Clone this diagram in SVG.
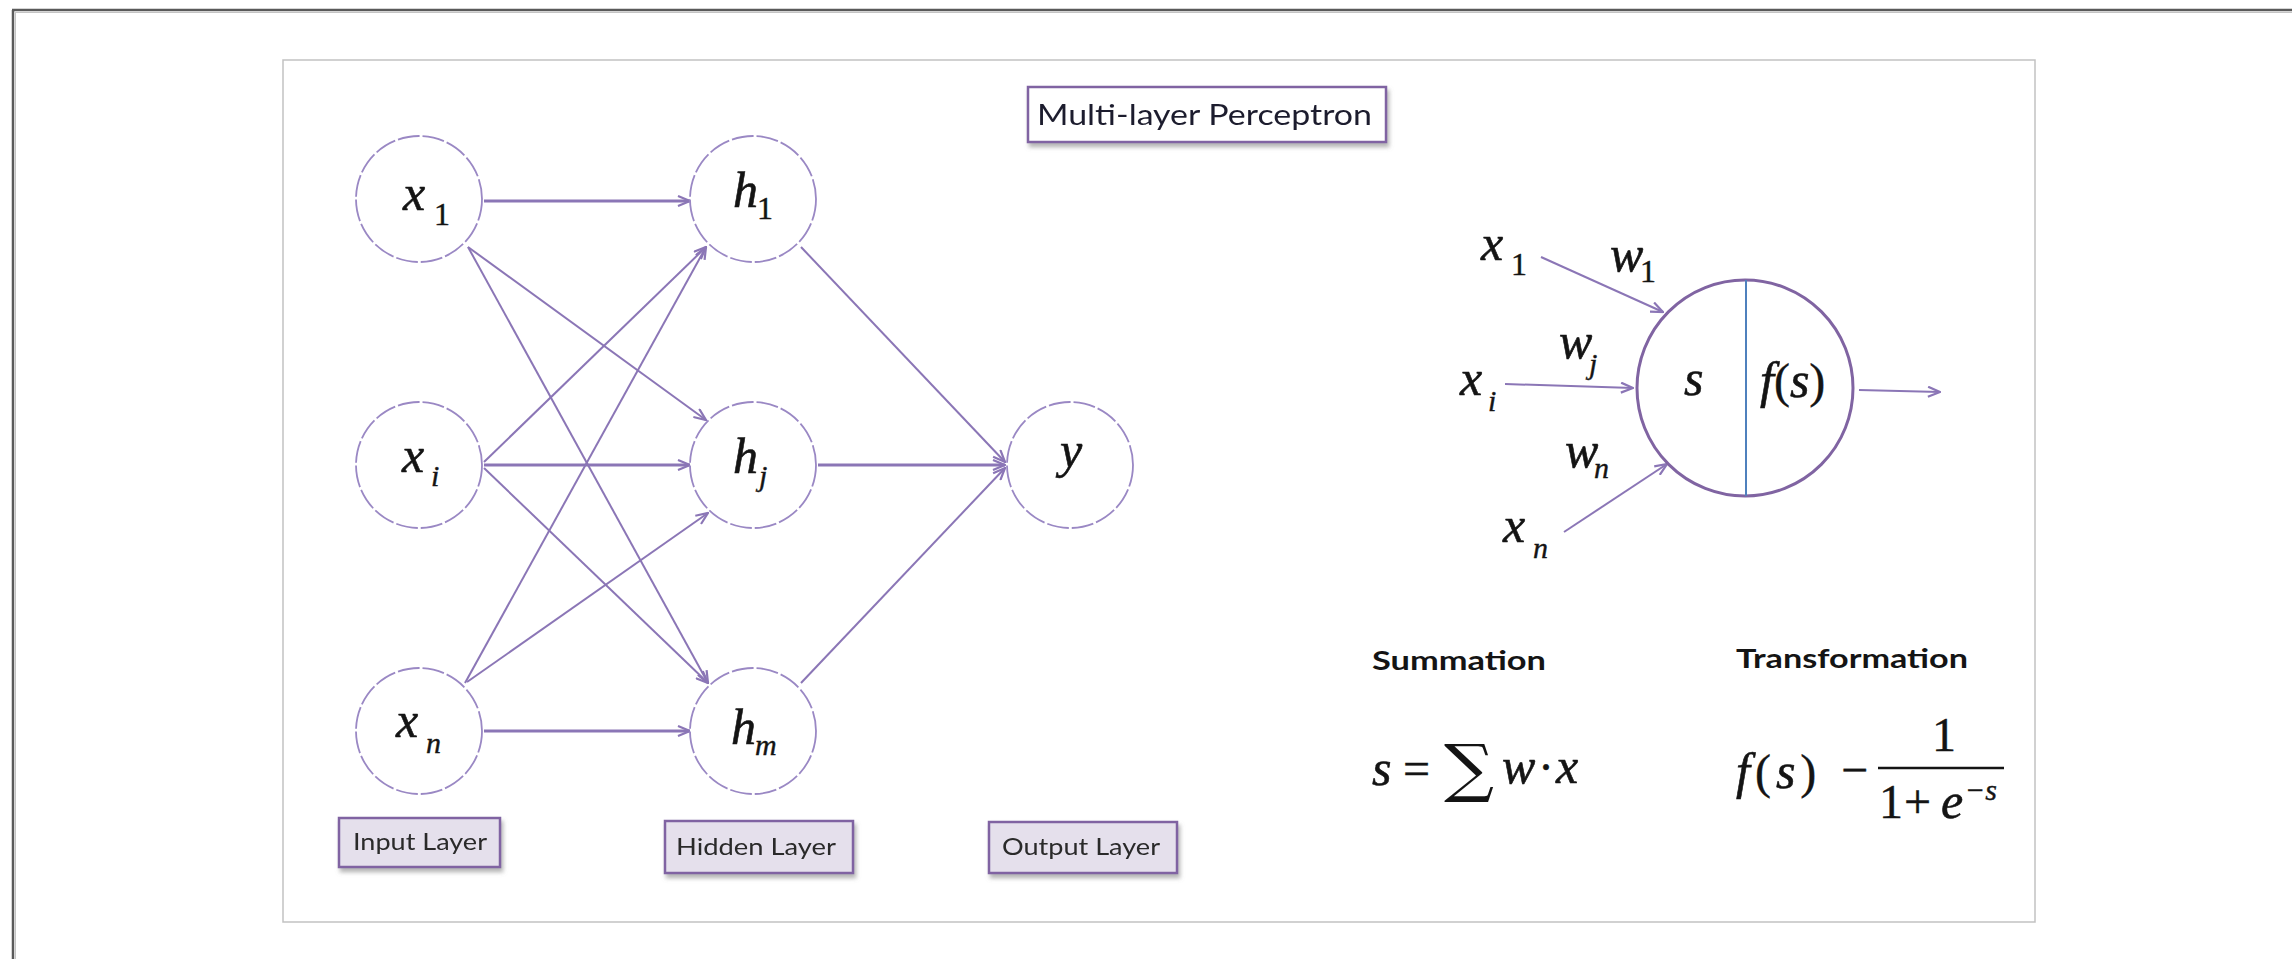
<svg xmlns="http://www.w3.org/2000/svg" width="2292" height="959" viewBox="0 0 2292 959">
  <style>
    .node { fill: #ffffff; stroke: #9a88c4; stroke-width: 1.8; stroke-dasharray: 22 3; }
    .m { font-family: "Liberation Serif", "Times New Roman", serif; font-style: italic; font-size: 50px; fill: #141414; stroke: #141414; stroke-width: 0.6; }
    .mr { font-family: "Liberation Serif", "Times New Roman", serif; font-size: 48px; fill: #141414; stroke: #141414; stroke-width: 0.4; }
    .sub { font-family: "Liberation Serif", "Times New Roman", serif; font-style: italic; font-size: 30px; fill: #141414; stroke: #141414; stroke-width: 0.4; }
    .subr { font-family: "Liberation Serif", "Times New Roman", serif; font-size: 32px; fill: #141414; stroke: #141414; stroke-width: 0.4; }
    .edge { fill: none; stroke: #8b76b6; stroke-width: 2; }
    .edge.h { stroke-width: 3; }
    .tag { fill: #e5e0ec; stroke: #8064a2; stroke-width: 2.5; }
    .tagtext { font-family: Lato, "Open Sans", sans-serif; font-size: 23px; fill: #2a2a2a; }
    .head { font-family: Lato, "Open Sans", sans-serif; font-weight: bold; font-size: 26px; fill: #141414; }
  </style>
  <defs>
    <marker id="arrow" viewBox="0 0 14 12" refX="13" refY="6" markerWidth="14" markerHeight="12" markerUnits="userSpaceOnUse" orient="auto">
      <path d="M1,1 L13,6 L1,11" fill="none" stroke="#8b76b6" stroke-width="2.2"/>
    </marker>
    <filter id="shadow" x="-10%" y="-20%" width="130%" height="160%">
      <feDropShadow dx="2" dy="4" stdDeviation="2" flood-color="#777777" flood-opacity="0.55"/>
    </filter>
  </defs>

  <rect x="0" y="0" width="2292" height="959" fill="#ffffff"/>

  <!-- page frame (top and left edges) -->
  <g id="frame">
    <line x1="12" y1="10" x2="2292" y2="10" stroke="#5a5a5a" stroke-width="2.5"/>
    <line x1="13" y1="10" x2="13" y2="959" stroke="#5a5a5a" stroke-width="2.5"/>
    <line x1="15" y1="12.5" x2="2292" y2="12.5" stroke="#c4c4c4" stroke-width="1"/>
    <line x1="15.5" y1="12" x2="15.5" y2="959" stroke="#c4c4c4" stroke-width="1"/>
  </g>

  <!-- figure panel -->
  <rect id="panel" x="283" y="60" width="1752" height="862" fill="#ffffff" stroke="#c2c2c2" stroke-width="1.5"/>

  <!-- title -->
  <g id="title" filter="url(#shadow)">
    <rect x="1028" y="87" width="358" height="55" fill="#ffffff" stroke="#8064a2" stroke-width="2.5"/>
    <text x="1037" y="125" font-family="Lato, 'Open Sans', sans-serif" font-size="28" fill="#1e1e2e" textLength="335" lengthAdjust="spacingAndGlyphs">Multi-layer Perceptron</text>
  </g>

  <!-- network connections -->
  <g id="connectors">
    <line class="edge h" x1="484" y1="201" x2="690" y2="201" marker-end="url(#arrow)"/>
    <line class="edge" x1="468" y1="247" x2="706" y2="420" marker-end="url(#arrow)"/>
    <line class="edge" x1="468" y1="247" x2="708" y2="683" marker-end="url(#arrow)"/>
    <line class="edge" x1="484" y1="462" x2="706" y2="247" marker-end="url(#arrow)"/>
    <line class="edge h" x1="484" y1="465" x2="690" y2="465" marker-end="url(#arrow)"/>
    <line class="edge" x1="484" y1="468" x2="708" y2="683" marker-end="url(#arrow)"/>
    <line class="edge" x1="465" y1="683" x2="706" y2="247" marker-end="url(#arrow)"/>
    <line class="edge" x1="467" y1="682" x2="708" y2="513" marker-end="url(#arrow)"/>
    <line class="edge h" x1="484" y1="731" x2="690" y2="731" marker-end="url(#arrow)"/>
    <line class="edge" x1="801" y1="247" x2="1005" y2="462" marker-end="url(#arrow)"/>
    <line class="edge h" x1="818" y1="465" x2="1005" y2="465" marker-end="url(#arrow)"/>
    <line class="edge" x1="801" y1="683" x2="1005" y2="468" marker-end="url(#arrow)"/>
  </g>

  <!-- input layer -->
  <g id="node-x1">
    <circle class="node" cx="419" cy="199" r="63"/>
    <text class="m" x="403" y="210">x</text>
    <text class="subr" x="434" y="225">1</text>
  </g>
  <g id="node-xi">
    <circle class="node" cx="419" cy="465" r="63"/>
    <text class="m" x="402" y="472">x</text>
    <text class="sub" x="431" y="486">i</text>
  </g>
  <g id="node-xn">
    <circle class="node" cx="419" cy="731" r="63"/>
    <text class="m" x="396" y="737">x</text>
    <text class="sub" x="426" y="753">n</text>
  </g>

  <!-- hidden layer -->
  <g id="node-h1">
    <circle class="node" cx="753" cy="199" r="63"/>
    <text class="m" x="733" y="207">h</text>
    <text class="subr" x="757" y="219" font-size="24">1</text>
  </g>
  <g id="node-hj">
    <circle class="node" cx="753" cy="465" r="63"/>
    <text class="m" x="733" y="473">h</text>
    <text class="sub" x="759" y="486" font-size="24">j</text>
  </g>
  <g id="node-hm">
    <circle class="node" cx="753" cy="731" r="63"/>
    <text class="m" x="731" y="744">h</text>
    <text class="sub" x="755" y="755" font-size="24">m</text>
  </g>

  <!-- output layer -->
  <g id="node-y">
    <circle class="node" cx="1070" cy="465" r="63"/>
    <text class="m" x="1060" y="467">y</text>
  </g>

  <!-- layer captions -->
  <g id="tag-input" filter="url(#shadow)">
    <rect class="tag" x="339" y="818" width="161" height="49"/>
    <text class="tagtext" x="353" y="850" textLength="134" lengthAdjust="spacingAndGlyphs">Input Layer</text>
  </g>
  <g id="tag-hidden" filter="url(#shadow)">
    <rect class="tag" x="665" y="821" width="188" height="52"/>
    <text class="tagtext" x="676" y="855" textLength="160" lengthAdjust="spacingAndGlyphs">Hidden Layer</text>
  </g>
  <g id="tag-output" filter="url(#shadow)">
    <rect class="tag" x="989" y="822" width="188" height="51"/>
    <text class="tagtext" x="1002" y="855" textLength="158" lengthAdjust="spacingAndGlyphs">Output Layer</text>
  </g>

  <!-- single neuron -->
  <g id="neuron">
    <line class="edge" x1="1541" y1="257" x2="1663" y2="312" marker-end="url(#arrow)"/>
    <line class="edge" x1="1505" y1="384" x2="1633" y2="388" marker-end="url(#arrow)"/>
    <line class="edge" x1="1564" y1="532" x2="1667" y2="464" marker-end="url(#arrow)"/>
    <line class="edge" x1="1859" y1="390" x2="1940" y2="392" marker-end="url(#arrow)"/>
    <circle cx="1745" cy="388" r="108" fill="none" stroke="#8064a2" stroke-width="3"/>
    <line x1="1746" y1="280" x2="1746" y2="496" stroke="#4f81bd" stroke-width="2"/>
    <text class="m" x="1684" y="395">s</text>
    <text class="m" x="1760" y="397" font-size="54">f<tspan class="mr" font-size="54" font-style="normal">(</tspan>s<tspan class="mr" font-size="54" font-style="normal">)</tspan></text>

    <text class="m" x="1481" y="260">x</text>
    <text class="subr" x="1511" y="275">1</text>
    <text class="m" x="1460" y="395">x</text>
    <text class="sub" x="1488" y="411">i</text>
    <text class="m" x="1503" y="542">x</text>
    <text class="sub" x="1533" y="558">n</text>

    <text class="m" x="1610" y="271" font-size="40">w</text>
    <text class="subr" x="1640" y="282" font-size="24">1</text>
    <text class="m" x="1559" y="358" font-size="40">w</text>
    <text class="sub" x="1589" y="374" font-size="24">j</text>
    <text class="m" x="1565" y="467" font-size="40">w</text>
    <text class="sub" x="1594" y="478" font-size="24">n</text>
  </g>

  <!-- equations -->
  <g id="summation">
    <text class="head" x="1372" y="670" textLength="174" lengthAdjust="spacingAndGlyphs">Summation</text>
    <text class="m" x="1372" y="785">s</text>
    <text class="mr" x="1403" y="785">=</text>
    <text x="1444" y="790" font-family="'DejaVu Serif', 'Liberation Serif', serif" font-size="64" fill="#141414" textLength="50" lengthAdjust="spacingAndGlyphs">∑</text>
    <text class="m" x="1502" y="783">w</text>
    <text class="mr" x="1538" y="783">·</text>
    <text class="m" x="1556" y="783">x</text>
  </g>
  <g id="transformation">
    <text class="head" x="1736" y="668" textLength="232" lengthAdjust="spacingAndGlyphs">Transformation</text>
    <text class="m" x="1736" y="788" font-size="58" letter-spacing="5">f<tspan class="mr" font-size="58" font-style="normal">(</tspan>s<tspan class="mr" font-size="58" font-style="normal">)</tspan></text>
    <text class="mr" x="1841" y="786">−</text>
    <text class="mr" x="1932" y="751">1</text>
    <line x1="1878" y1="768" x2="2004" y2="768" stroke="#141414" stroke-width="2.5"/>
    <text class="mr" x="1879" y="818">1</text>
    <text class="mr" x="1904" y="818">+</text>
    <text class="m" x="1941" y="818">e</text>
    <text class="sub" x="1965" y="800">−s</text>
  </g>
</svg>
